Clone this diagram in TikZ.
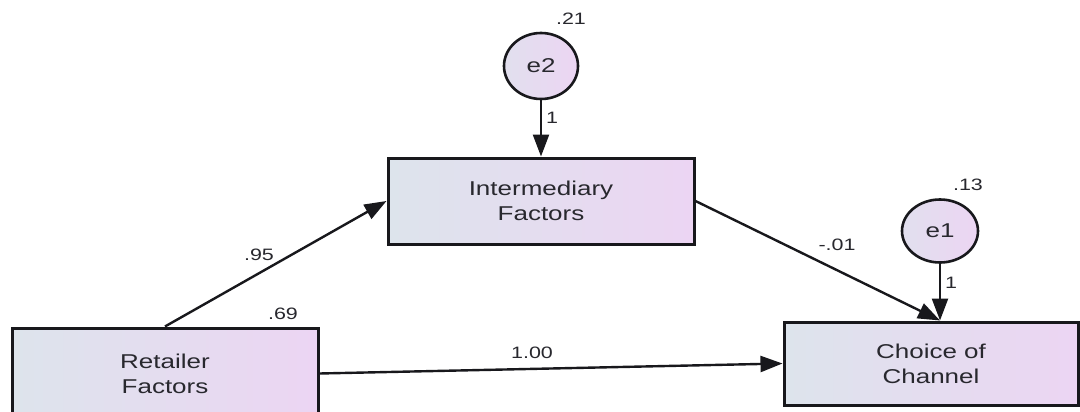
\documentclass[tikz,border=0pt]{standalone}
\usepackage{fontspec}
\setmainfont{Liberation Sans}
\newfontfamily\pathfont[FakeStretch=1.3]{Liberation Sans}
\usetikzlibrary{arrows.meta,shapes.geometric}

\definecolor{fillleft}{RGB}{221,228,236}
\definecolor{fillright}{RGB}{236,213,243}
\definecolor{edgecol}{RGB}{24,24,28}
\definecolor{textcol}{RGB}{40,40,46}

\tikzset{
  varbox/.style={draw=edgecol, line width=3pt, rectangle,
    left color=fillleft, right color=fillright,
    minimum width=306pt, minimum height=86pt, inner sep=0pt,
    align=center, text=textcol,
    font=\pathfont\fontsize{20}{25}\selectfont},
  errvar/.style={draw=edgecol, line width=2.6pt, ellipse,
    left color=fillleft!70!fillright, right color=fillright,
    minimum width=74pt, minimum height=66pt, inner sep=0pt,
    text=textcol, font=\pathfont\fontsize{20}{24}\selectfont},
  path/.style={draw=edgecol, line width=2.4pt,
    -{Triangle[length=22pt, width=16pt]}},
  coef/.style={text=textcol, inner sep=0pt,
    font=\pathfont\fontsize{16.5}{18}\selectfont}
}

\begin{document}
\begin{tikzpicture}[x=1pt, y=-1pt]
  \useasboundingbox (0,0) rectangle (1080,412);
  \fill[white] (0,0) rectangle (1080,412);
  \clip (0,0) rectangle (1080,412);

  % observed variables
  \node[varbox] (inter) at (541,201) {Intermediary\\Factors};
  \node[varbox, minimum height=91pt] (ret) at (165,373.5) {Retailer\\Factors};
  \node[varbox, minimum width=294pt, minimum height=83pt] (choice) at (931,363.5) {Choice of\\Channel};

  % error terms
  \node[errvar] (e2) at (541,66) {e2};
  \node[errvar, minimum width=76pt, minimum height=63pt] (e1) at (940,231) {e1};

  % variances
  \node[coef] (v21) at (571,19) {.21};
  \node[coef] (v13) at (968,185) {.13};
  \node[coef] (v69) at (283,314) {.69};

  % regression paths
  \coordinate (cin) at (choice.north -| e1.center);
  \draw[path] (e2.south) -- (inter.north);
  \draw[path] (e1.south) -- (cin);
  \draw[path] (ret.north) -- (inter.west);
  \draw[path] (inter.east) -- (cin);
  \draw[path] (ret.east) -- (choice.west);

  % path coefficients
  \node[coef] (w1a) at (552,118) {1};
  \node[coef] (w1b) at (951,283) {1};
  \node[coef] (w95) at (259,255) {.95};
  \node[coef] (w01) at (837,245) {-.01};
  \node[coef] (w100) at (532,353) {1.00};
\end{tikzpicture}
\end{document}
